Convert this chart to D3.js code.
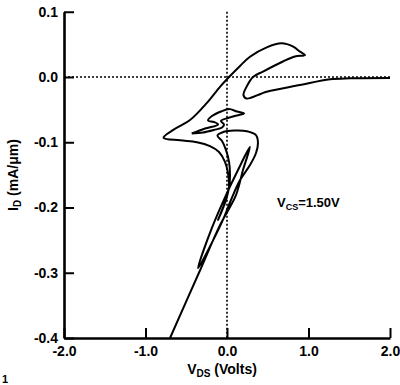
<!DOCTYPE html>
<html>
<head>
<meta charset="utf-8">
<script src="https://cdn.jsdelivr.net/npm/d3@7"></script>
<style>
  body { margin: 0; background: #fff; }
  svg text { font-family: "Liberation Sans", Arial, sans-serif; font-weight: bold; fill: #000; }
</style>
</head>
<body>
<svg id="chart" width="400" height="385"></svg>
<script>
// tick values
const xTicks = [-2, -1, 0, 1, 2]
const yTicks = [0.1, 0, -0.1, -0.2, -0.3, -0.4]

// main trajectory (V in volts, I in mA/um)
const mainV = [-0.699, -0.344, -0.086, 0.110, 0.196, 0.282, 0.135, -0.012, -0.184, -0.356,
  -0.061, 0.049, 0.160, 0.282, 0.356, 0.380, 0.356, 0.245, 0.086, -0.037, -0.117,
  -0.061, -0.012, 0.025, 0.037, 0.025, -0.037, -0.110, -0.012, 0.025, 0.012, -0.025, -0.098,
  -0.209, -0.368, -0.577, -0.779, -0.659, -0.454, -0.249, -0.086, 0.025, 0.160, 0.282, 0.487, 0.671, 0.813,
  0.896, 0.957, 0.834, 0.687, 0.442, 0.319, 0.245, 0.202, 0.239, 0.487, 0.896, 1.264, 1.509, 2.0]
const mainI = [-0.400, -0.300, -0.227, -0.181, -0.1425, -0.107, -0.1425, -0.181, -0.231, -0.293,
  -0.222, -0.1885, -0.158, -0.135, -0.1165, -0.101, -0.089, -0.083, -0.082, -0.084, -0.0897,
  -0.098, -0.112, -0.130, -0.150, -0.170, -0.196, -0.219, -0.1885, -0.167, -0.147, -0.130, -0.115,
  -0.106, -0.100, -0.097, -0.093, -0.081, -0.066, -0.040, -0.015, 0.000, 0.017, 0.031, 0.0455, 0.0516, 0.0464,
  0.0388, 0.0337, 0.0314, 0.0238, 0.0084, 0.000, -0.0138, -0.0276, -0.033, -0.0225, -0.0123, -0.0035, -0.002, -0.0015]

// small double loop in the middle
const loopV = [-0.433, -0.270, -0.110, -0.160, -0.233, -0.184, -0.074, 0.025, 0.123, 0.209, 0.123, 0.012,
  -0.074, -0.037, -0.061, -0.160, -0.294, -0.433]
const loopI = [-0.0866, -0.0789, -0.0728, -0.0690, -0.0667, -0.0598, -0.0529, -0.0490, -0.0529, -0.0559, -0.0590, -0.0628,
  -0.0674, -0.0728, -0.0774, -0.0812, -0.0851, -0.0866]

const svg = d3.select("#chart")
const x = d3.scaleLinear().domain([-2, 2]).range([64, 390])
const y = d3.scaleLinear().domain([-0.4, 0.1]).range([338, 11.75])

// dotted zero lines
svg.append("line")
  .attr("x1", x(-2)).attr("x2", x(2)).attr("y1", y(0)).attr("y2", y(0))
  .attr("stroke", "#000").attr("stroke-width", 1.6).attr("stroke-dasharray", "2,2")
svg.append("line")
  .attr("x1", x(0)).attr("x2", x(0)).attr("y1", y(0.1)).attr("y2", y(-0.4))
  .attr("stroke", "#000").attr("stroke-width", 1.6).attr("stroke-dasharray", "2,2")

svg.append("g")
  .attr("transform", "translate(" + x(-2) + ",0)")
  .call(d3.axisLeft(y).tickValues(yTicks).tickFormat(d3.format(".1f")).tickSizeInner(-10).tickSizeOuter(0).tickPadding(6))
svg.append("g")
  .attr("transform", "translate(0," + y(-0.4) + ")")
  .call(d3.axisBottom(x).tickValues(xTicks).tickFormat(d3.format(".1f")).tickSizeInner(-10).tickSizeOuter(0).tickPadding(8))

svg.selectAll(".domain").attr("stroke-width", 2.6)
svg.selectAll(".tick line").attr("stroke-width", 2)
svg.selectAll(".tick text").style("font-size", "14px").attr("fill", "#000")
  .text(d => d3.format(".1f")(d).replace("−", "-"))

const line = d3.line().curve(d3.curveCatmullRom.alpha(0.5))

svg.append("path")
  .attr("d", line(mainV.map((v, i) => [x(v), y(mainI[i])])))
  .attr("fill", "none").attr("stroke", "#000").attr("stroke-width", 2).attr("stroke-linejoin", "round")
svg.append("path")
  .attr("d", line(loopV.map((v, i) => [x(v), y(loopI[i])])))
  .attr("fill", "none").attr("stroke", "#000").attr("stroke-width", 2).attr("stroke-linejoin", "round")

// axis titles
const xt = svg.append("text").attr("x", 222).attr("y", 374).attr("text-anchor", "middle").style("font-size", "14px")
xt.append("tspan").text("V")
xt.append("tspan").attr("dy", 3).style("font-size", "10px").text("DS")
xt.append("tspan").attr("dy", -3).text(" (Volts)")

const yt = svg.append("text").attr("transform", "translate(18,175) rotate(-90)").attr("text-anchor", "middle").style("font-size", "14px")
yt.append("tspan").text("I")
yt.append("tspan").attr("dy", 3).style("font-size", "10px").text("D")
yt.append("tspan").attr("dy", -3).text(" (mA/\u03bcm)")

const note = svg.append("text").attr("x", 277).attr("y", 207).style("font-size", "13px")
note.append("tspan").text("V")
note.append("tspan").attr("dy", 3).style("font-size", "9px").text("CS")
note.append("tspan").attr("dy", -3).text("=1.50V")

svg.append("text").attr("x", 2).attr("y", 383).style("font-size", "11px").text("1")
</script>
</body>
</html>
